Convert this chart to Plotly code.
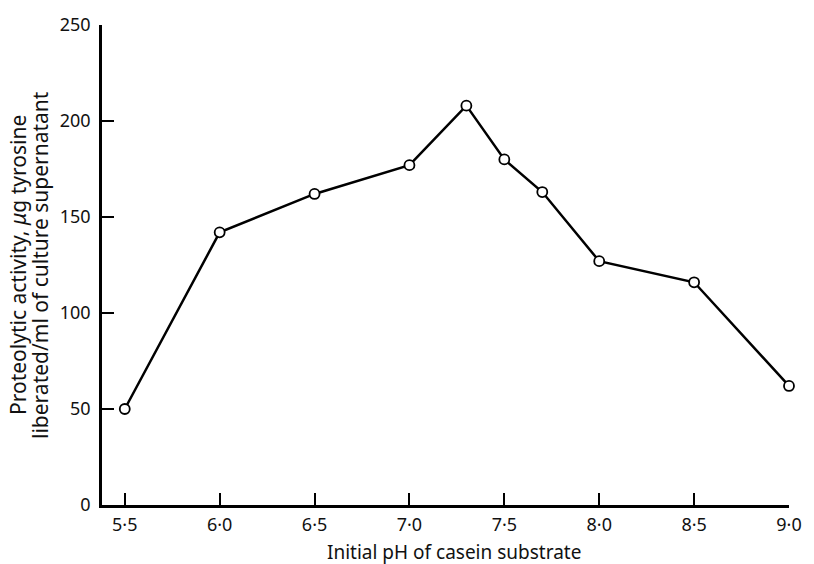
import plotly.graph_objects as go

# Initial pH of casein substrate vs proteolytic activity
ph = [5.5, 6.0, 6.5, 7.0, 7.3, 7.5, 7.7, 8.0, 8.5, 9.0]
activity = [50, 142, 162, 177, 208, 180, 163, 127, 116, 62]

x_ticks = [5.5, 6.0, 6.5, 7.0, 7.5, 8.0, 8.5, 9.0]
x_ticktext = ["5·5", "6·0", "6·5", "7·0", "7·5", "8·0", "8·5", "9·0"]
y_ticks = [0, 50, 100, 150, 200, 250]

y_title_lines = ["Proteolytic activity, <i>μ</i>g tyrosine",
                 "liberated/ml of culture supernatant"]

FONT = "Noto Sans"

fig = go.Figure()
fig.add_trace(go.Scatter(
    x=ph, y=activity, mode="lines+markers",
    line=dict(color="black", width=2.5),
    marker=dict(symbol="circle", size=10, color="white",
                line=dict(color="black", width=1.8)),
    showlegend=False, cliponaxis=False,
))

axis_common = dict(
    showline=True, linecolor="black", linewidth=2.5,
    ticks="inside", ticklen=12, tickwidth=2.2, tickcolor="black",
    showgrid=False, zeroline=False,
    tickfont=dict(family=FONT, size=18, color="#111"),
)

annotations = [
    dict(text="Initial pH of casein substrate", xref="paper", yref="paper",
         x=0.513, y=0, yshift=-47, showarrow=False, yanchor="middle",
         font=dict(family=FONT, size=19, color="#111")),
]
for shift, line in zip([-84, -62], y_title_lines):
    annotations.append(dict(
        text=line, xref="paper", yref="paper", x=0, xshift=shift, y=0.5,
        textangle=-90, showarrow=False, xanchor="center", yanchor="middle",
        font=dict(family=FONT, size=21, color="#111")))

fig.update_layout(
    width=814, height=564,
    margin=dict(l=102, r=16, t=19, b=59),
    paper_bgcolor="white", plot_bgcolor="white",
    xaxis=dict(range=[5.38, 9.0], tickvals=x_ticks, ticktext=x_ticktext,
               ticklabelstandoff=2, **axis_common),
    yaxis=dict(range=[0, 250], tickvals=y_ticks,
               ticklabelstandoff=5, **axis_common),
    annotations=annotations,
)

fig.write_html("out.html")
